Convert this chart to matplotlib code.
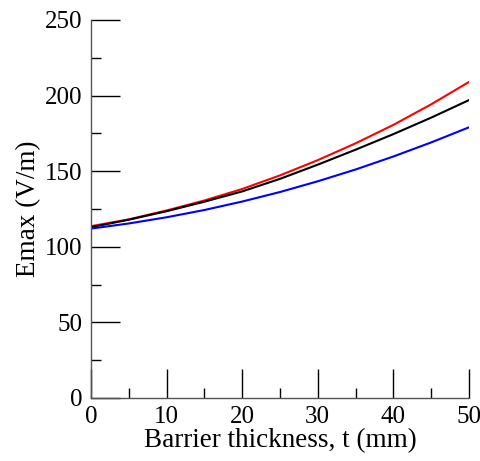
import matplotlib.pyplot as plt
from matplotlib.ticker import MultipleLocator

# Barrier thickness (mm)
t = [0, 5, 10, 15, 20, 25, 30, 35, 40, 45, 50]

# Emax (V/m) for the three cases
emax_red = [113.6, 118.1, 124.0, 130.6, 138.2, 147.2, 157.3, 168.4, 180.6, 194.2, 209.0]
emax_black = [112.9, 117.9, 123.5, 129.8, 136.6, 144.9, 154.3, 164.2, 174.5, 185.4, 197.0]
emax_blue = [112.0, 115.4, 119.5, 124.3, 129.9, 136.2, 143.3, 151.1, 159.7, 169.0, 179.0]

plt.rcParams['font.family'] = ['Liberation Serif', 'DejaVu Serif']

fig = plt.figure(figsize=(4.81, 4.61), dpi=100)
ax = fig.add_axes([0.189, 0.1367, 0.786, 0.82])

ax.plot(t, emax_red, color='red', lw=1.5)
ax.plot(t, emax_black, color='black', lw=1.5)
ax.plot(t, emax_blue, color='blue', lw=1.5)

ax.set_xlim(0, 50)
ax.set_ylim(0, 250)
ax.xaxis.set_major_locator(MultipleLocator(10))
ax.xaxis.set_minor_locator(MultipleLocator(5))
ax.yaxis.set_major_locator(MultipleLocator(50))
ax.yaxis.set_minor_locator(MultipleLocator(25))

ax.spines['top'].set_visible(False)
ax.spines['right'].set_visible(False)
for s in ['left', 'bottom']:
    ax.spines[s].set_color('#555555')
    ax.spines[s].set_linewidth(1.0)

ax.tick_params(which='major', direction='in', length=21, width=1, labelsize=18, pad=6)
ax.tick_params(which='minor', direction='in', length=7, width=1)

ax.set_xlabel('Barrier thickness, t (mm)', fontsize=19.5, labelpad=0)
ax.set_ylabel('Emax (V/m)', fontsize=19.5, labelpad=3)

fig.savefig('out.png', dpi=100)
